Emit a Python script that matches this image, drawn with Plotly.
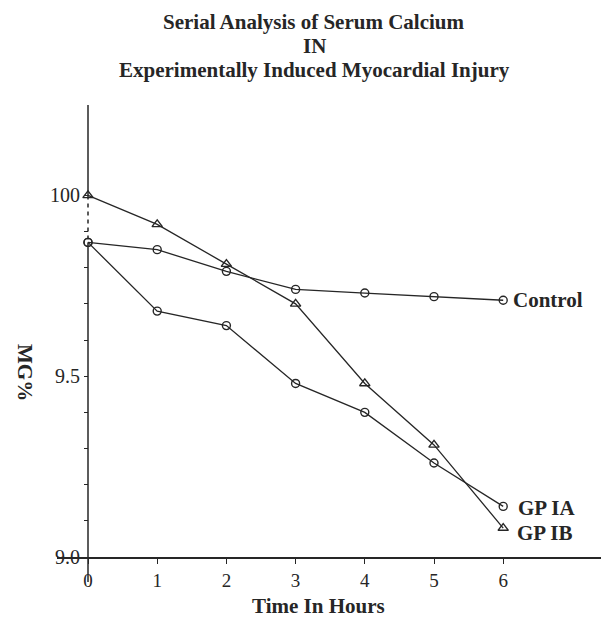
import plotly.graph_objects as go

hours = [0, 1, 2, 3, 4, 5, 6]
control = [9.87, 9.85, 9.79, 9.74, 9.73, 9.72, 9.71]
gp_ia = [9.87, 9.68, 9.64, 9.48, 9.40, 9.26, 9.14]
gp_ib = [10.0, 9.92, 9.81, 9.70, 9.48, 9.31, 9.08]

y_tickvals = [9.0, 9.1, 9.2, 9.3, 9.4, 9.5, 9.6, 9.7, 9.8, 9.9, 10.0]
y_ticktext = ["9.0", "", "", "", "", "9.5", "", "", "", "", "100"]
x_ticktext = ["0", "1", "2", "3", "4", "5", "6"]
title_lines = ["Serial Analysis of Serum Calcium", "IN", "Experimentally Induced Myocardial Injury"]

INK = "#262626"
SERIF = "Liberation Serif"

# plot area geometry (pixels, page frame)
PL, PR, PT, PB = 57, 607, 105, 557
PW, PH = PR - PL, PB - PT

def px(x):
    return (x - PL) / PW

def py(y):
    return (PB - y) / PH

fig = go.Figure()
series = [
    ("Control", control, "circle-open", 8),
    ("GP IA", gp_ia, "circle-open", 8),
    ("GP IB", gp_ib, "triangle-up-open", 9),
]
for name, vals, sym, sz in series:
    fig.add_trace(go.Scatter(
        x=hours, y=vals, mode="lines+markers", name=name,
        line=dict(color=INK, width=1.3),
        marker=dict(symbol=sym, size=sz, color=INK, line=dict(color=INK, width=1.4)),
        showlegend=False, cliponaxis=False,
    ))

# vertical axis drawn as shapes (solid, dashed between the two starting values, solid)
fig.add_shape(type="line", xref="x", yref="y", x0=0, x1=0, y0=10.25, y1=gp_ib[0],
              line=dict(color=INK, width=1.5))
fig.add_shape(type="line", xref="x", yref="y", x0=0, x1=0, y0=gp_ib[0], y1=control[0],
              line=dict(color=INK, width=1.5, dash="4px,4px"))
fig.add_shape(type="line", xref="x", yref="y", x0=0, x1=0, y0=control[0], y1=9.0,
              line=dict(color=INK, width=1.5))
fig.add_shape(type="line", xref="x", yref="paper", x0=0, x1=0, y0=0, y1=py(582),
              line=dict(color=INK, width=1.5))

lab_font = dict(family=SERIF, size=21, color=INK, weight="bold")
fig.add_annotation(x=hours[-1], y=control[-1], text="Control", showarrow=False,
                   xanchor="left", xshift=8, yshift=0, font=lab_font)
fig.add_annotation(x=hours[-1], y=gp_ia[-1], text="GP IA", showarrow=False,
                   xanchor="left", xshift=13, yshift=-2, font=lab_font)
fig.add_annotation(x=hours[-1], y=gp_ib[-1], text="GP IB", showarrow=False,
                   xanchor="left", xshift=12, yshift=-5, font=lab_font)

fig.add_annotation(xref="paper", yref="paper", x=px(318), y=py(606),
                   text="Time In Hours", showarrow=False, xanchor="center", yanchor="middle",
                   font=lab_font)
fig.add_annotation(xref="paper", yref="paper", x=px(25), y=py(372),
                   text="MG%", showarrow=False, textangle=90, xanchor="center", yanchor="middle",
                   font=lab_font)

for line_text, ypix in zip(title_lines, [22, 46, 70]):
    fig.add_annotation(xref="paper", yref="paper", x=px(314), y=py(ypix),
                       text=line_text, showarrow=False, xanchor="center", yanchor="middle",
                       borderpad=0,
                       font=dict(family=SERIF, size=21, color=INK, weight="bold"))

# the page body adds an 8px offset, so the figure is 8px smaller and margins shifted
OFF = 8
fig.update_layout(
    width=609 - OFF, height=621 - OFF,
    margin=dict(l=PL - OFF, r=609 - OFF - (PR - OFF), t=PT - OFF, b=621 - PB),
    paper_bgcolor="white", plot_bgcolor="white",
    xaxis=dict(
        range=[-0.448, 7.5], tickvals=hours, ticktext=x_ticktext,
        showgrid=False, zeroline=False, showline=True, linecolor=INK, linewidth=1.5,
        ticks="outside", ticklen=5, tickcolor=INK, tickwidth=1.2,
        tickfont=dict(family=SERIF, size=19, color=INK),
    ),
    yaxis=dict(
        range=[9.0, 10.25], tickvals=y_tickvals, ticktext=y_ticktext,
        anchor="free", position=px(88),
        showgrid=False, zeroline=False, showline=False,
        ticks="outside", ticklen=4, tickcolor=INK, tickwidth=1.2,
        tickfont=dict(family=SERIF, size=20, color=INK),
    ),
)

fig.write_html("out.html")
